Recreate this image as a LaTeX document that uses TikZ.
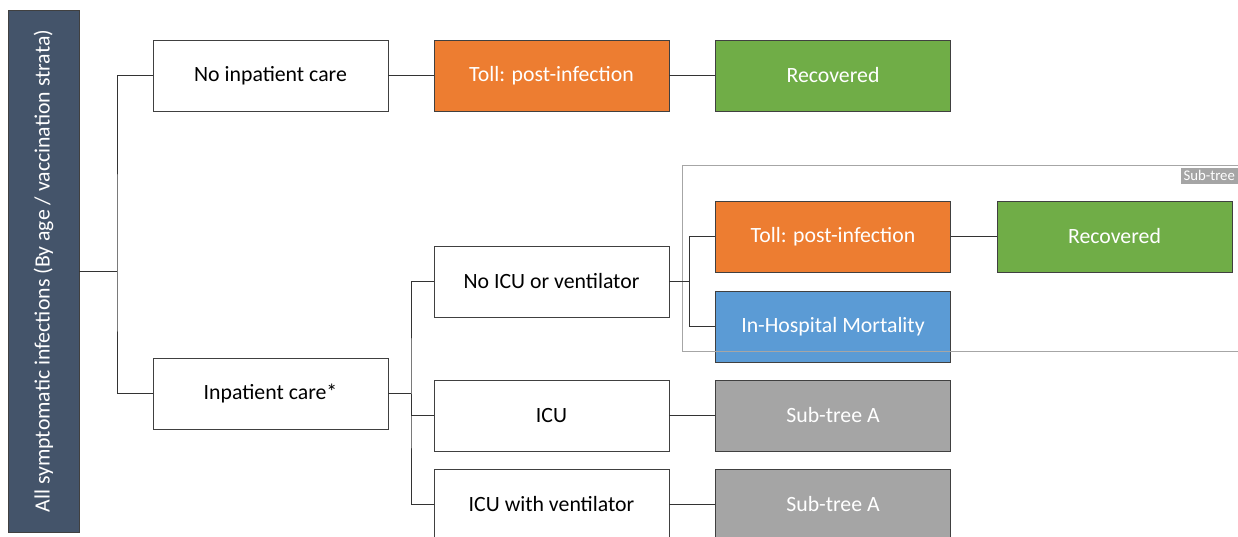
\documentclass[tikz,border=0pt]{standalone}
\usepackage{fontspec}
\setmainfont{Carlito}
\usepackage{tikz}
\usetikzlibrary{calc}

\definecolor{slate}{HTML}{44546A}
\definecolor{tollorange}{HTML}{ED7D31}
\definecolor{recgreen}{HTML}{70AD47}
\definecolor{mortblue}{HTML}{5B9BD5}
\definecolor{subgrey}{HTML}{A5A5A5}

\begin{document}
\begin{tikzpicture}[x=0.25mm,y=-0.25mm]
  \tikzstyle{stage}=[draw=black!75, line width=0.5pt, minimum width=58.75mm, minimum height=17.75mm,
    inner sep=2pt, font=\fontsize{15.5}{18}\selectfont]
  \tikzstyle{plain}=[stage, fill=white, text=black]
  \tikzstyle{toll}=[stage, fill=tollorange, text=white]
  \tikzstyle{recov}=[stage, fill=recgreen, text=white]
  \tikzstyle{mort}=[stage, fill=mortblue, text=white]
  \tikzstyle{subA}=[stage, fill=subgrey, text=white]
  \tikzstyle{link}=[draw=black!80, line width=0.6pt]
  \useasboundingbox (0,0) rectangle (1238,537);
  \clip (0,0) rectangle (1238,537);

  % root bar
  \node[draw=black!75, fill=slate, text=white, minimum width=130.5mm, minimum height=17.75mm,
    rotate=90, font=\fontsize{15.5}{18}\selectfont] (all) at (43.5,271)
    {All symptomatic infections (By age / vaccination strata)};

  % first split
  \node[plain] (nip) at (270.5,75.5) {No inpatient care};
  \node[toll] (toll1) at (551.5,75.5) {Toll: post-infection};
  \node[recov] (rec1) at (833,75.5) {Recovered};
  \node[plain] (ip) at (270.5,393.5) {Inpatient care*};

  % inpatient branches
  \foreach \n/\y/\t in {noicu/281.5/No ICU or ventilator, icu/415.5/ICU, icuv/504.5/ICU with ventilator} {
    \node[plain] (\n) at (551.5,\y) {\t};
  }
  \foreach \n/\y in {subA1/415.5, subA2/504.5} {
    \node[subA] (\n) at (833,\y) {Sub-tree A};
  }

  % sub-tree
  \node[toll] (toll2) at (833,236.5) {Toll: post-infection};
  \node[recov] (rec2) at (1114.5,236.5) {Recovered};
  \node[mort] (mortal) at (833,326.5) {In-Hospital Mortality};
  \draw[draw=black!35, line width=0.5pt] (682,165) rectangle (1245,351);
  \node[fill=subgrey, text=white, inner sep=2pt, minimum height=3.6mm, anchor=north east,
    font=\fontsize{10.5}{11}\selectfont] (sublabel) at (1238,167.5) {Sub-tree};

  % connectors
  \coordinate (j1) at (117,271);
  \coordinate (j2) at (411,393.5);
  \coordinate (j3) at (689,281.5);
  \draw[link] (all.south) -- (j1);
  \draw[link] (nip.west) -| (j1) |- (ip.west);
  \draw[link] (ip.east) -- (j2);
  \draw[link] (noicu.west) -| (j2) |- (icuv.west);
  \draw[link] (icu.west) -| (j2);
  \draw[link] (noicu.east) -- (j3);
  \draw[link] (toll2.west) -| (j3) |- (mortal.west);
  \foreach \a/\b in {nip/toll1, toll1/rec1, toll2/rec2, icu/subA1, icuv/subA2} {
    \draw[link] (\a) -- (\b);
  }
\end{tikzpicture}
\end{document}
